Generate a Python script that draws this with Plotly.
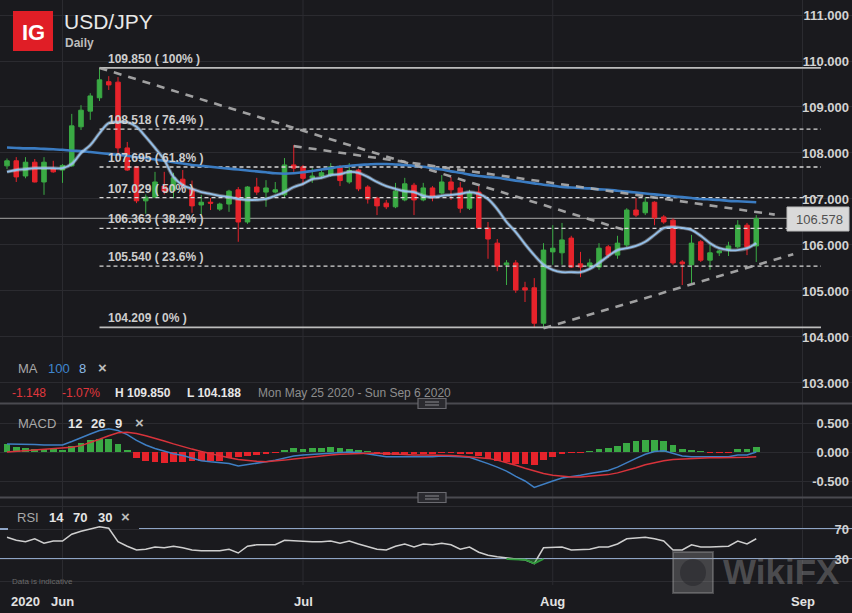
import pandas as pd
import plotly.graph_objects as go

# ---------------- data ----------------
# trading candles: Sunday..Friday (Saturdays absent), May 25 .. Aug 27 2020
DATES = [d.strftime("%Y-%m-%d") for d in pd.date_range("2020-05-25", "2020-08-27") if d.weekday() != 5]

OPEN = [107.72, 107.83, 107.50, 107.80, 107.37, 107.65, 107.63, 107.72, 108.57, 108.91,
        109.20, 109.55, 109.54, 108.11, 107.70, 106.96, 107.04, 107.28, 107.19, 107.43,
        107.22, 106.87, 106.93, 106.78, 106.89, 107.20, 106.50, 107.26, 107.15, 107.15,
        107.09, 107.74, 107.70, 107.46, 107.50, 107.52, 107.70, 107.37, 107.63, 107.26,
        107.02, 106.91, 106.83, 106.98, 107.30, 106.98, 107.24, 107.13, 107.37, 107.24,
        106.80, 107.15, 106.37, 106.04, 105.57, 105.61, 105.07, 105.07, 104.30, 105.85,
        105.83, 106.15, 105.59, 105.54, 105.52, 105.96, 105.78, 106.00, 106.76, 106.70,
        106.93, 106.61, 106.54, 105.63, 105.57, 106.07, 105.67, 105.83, 105.89, 105.96,
        106.43, 105.98]
HIGH = [107.88, 107.91, 107.91, 107.87, 107.91, 107.83, 107.76, 108.85, 109.04, 109.30,
        109.85, 109.67, 109.65, 108.24, 107.72, 107.10, 107.59, 107.59, 107.57, 107.63,
        107.40, 107.09, 107.02, 106.92, 107.20, 107.26, 107.28, 107.46, 107.41, 107.37,
        107.89, 108.17, 107.74, 107.67, 107.63, 107.78, 107.74, 107.78, 107.66, 107.30,
        107.05, 106.98, 107.35, 107.46, 107.35, 107.35, 107.28, 107.52, 107.48, 107.37,
        107.20, 107.28, 106.50, 106.13, 105.67, 105.67, 105.20, 105.28, 106.04, 106.43,
        106.48, 106.20, 105.85, 105.70, 106.04, 106.00, 106.20, 106.80, 107.02, 107.04,
        106.95, 106.65, 106.58, 105.67, 106.22, 106.11, 106.00, 105.89, 106.07, 106.54,
        106.48, 106.65]
LOW = [107.65, 107.37, 107.45, 107.36, 107.09, 107.57, 107.35, 107.70, 108.50, 108.72,
       109.13, 109.37, 107.93, 107.61, 106.91, 106.68, 107.02, 107.10, 107.02, 107.20,
       106.70, 106.65, 106.76, 106.74, 106.72, 106.07, 106.46, 107.09, 106.83, 107.12,
       107.04, 107.59, 107.30, 107.35, 107.45, 107.48, 107.28, 107.33, 107.17, 106.90,
       106.65, 106.78, 106.80, 106.95, 106.65, 106.95, 106.95, 107.10, 106.98, 106.70,
       106.76, 106.35, 105.70, 105.43, 105.13, 104.96, 104.76, 104.21, 104.188, 105.57,
       105.57, 105.50, 105.30, 105.50, 105.46, 105.72, 105.70, 105.96, 106.61, 106.65,
       106.43, 106.46, 105.57, 105.13, 105.17, 105.63, 105.46, 105.76, 105.76, 105.93,
       105.78, 105.63]
CLOSE = [107.83, 107.48, 107.80, 107.37, 107.80, 107.59, 107.73, 108.59, 108.93, 109.24,
         109.59, 109.48, 108.11, 107.63, 106.96, 107.04, 107.37, 107.17, 107.46, 107.28,
         106.85, 106.93, 106.91, 106.89, 107.17, 106.50, 107.26, 107.15, 107.24, 107.20,
         107.74, 107.67, 107.45, 107.50, 107.57, 107.70, 107.40, 107.62, 107.22, 107.00,
         106.85, 106.83, 107.17, 107.33, 106.98, 107.24, 107.04, 107.37, 107.20, 106.80,
         107.13, 106.37, 106.13, 105.54, 105.61, 105.02, 105.02, 104.30, 105.89, 105.93,
         106.11, 105.52, 105.52, 105.61, 105.93, 105.78, 106.04, 106.76, 106.65, 106.93,
         106.59, 106.50, 105.61, 105.59, 106.04, 105.67, 105.83, 105.87, 105.98, 106.43,
         105.96, 106.578]

MA100 = [108.12, 108.11, 108.10, 108.10, 108.09, 108.08, 108.07, 108.05, 108.04, 108.02,
         108.00, 107.98, 107.96, 107.94, 107.91, 107.89, 107.86, 107.83, 107.80, 107.77,
         107.74, 107.72, 107.70, 107.68, 107.66, 107.64, 107.62, 107.60, 107.58, 107.56,
         107.55, 107.56, 107.58, 107.61, 107.64, 107.67, 107.70, 107.72, 107.74, 107.75,
         107.76, 107.76, 107.75, 107.74, 107.72, 107.70, 107.67, 107.64, 107.60, 107.57,
         107.53, 107.50, 107.48, 107.46, 107.43, 107.40, 107.37, 107.34, 107.31, 107.29,
         107.26, 107.25, 107.24, 107.23, 107.21, 107.20, 107.18, 107.16, 107.14, 107.12,
         107.10, 107.08, 107.06, 107.04, 107.02, 107.00, 106.99, 106.98, 106.96, 106.95,
         106.94, 106.93]
MA8 = [107.59, 107.63, 107.65, 107.67, 107.67, 107.67, 107.67, 107.76, 108.00, 108.17,
       108.43, 108.65, 108.67, 108.67, 108.57, 108.35, 108.11, 107.85, 107.48, 107.30,
       107.22, 107.15, 107.11, 107.07, 107.04, 107.00, 106.98, 106.98, 107.00, 107.07,
       107.15, 107.26, 107.33, 107.43, 107.46, 107.52, 107.54, 107.59, 107.57, 107.48,
       107.37, 107.28, 107.22, 107.17, 107.15, 107.07, 107.04, 107.07, 107.09, 107.11,
       107.15, 107.11, 107.00, 106.78, 106.50, 106.28, 106.02, 105.78, 105.57, 105.46,
       105.41, 105.41, 105.41, 105.48, 105.61, 105.76, 105.89, 105.93, 105.98, 106.07,
       106.22, 106.37, 106.39, 106.37, 106.33, 106.20, 106.04, 105.93, 105.89, 105.89,
       105.93, 106.04]

MACD = [0.14, 0.14, 0.13, 0.13, 0.12, 0.12, 0.12, 0.18, 0.25, 0.31,
        0.37, 0.40, 0.37, 0.30, 0.20, 0.12, 0.06, 0.01, -0.03, -0.06,
        -0.11, -0.15, -0.17, -0.19, -0.20, -0.24, -0.22, -0.20, -0.17, -0.14,
        -0.10, -0.07, -0.05, -0.04, -0.02, -0.01, 0.00, 0.00, -0.01, -0.03,
        -0.06, -0.08, -0.08, -0.08, -0.09, -0.08, -0.08, -0.07, -0.07, -0.08,
        -0.09, -0.14, -0.20, -0.26, -0.33, -0.42, -0.50, -0.61, -0.55, -0.50,
        -0.45, -0.43, -0.40, -0.37, -0.35, -0.32, -0.26, -0.18, -0.11, -0.04,
        0.01, 0.02, -0.03, -0.07, -0.08, -0.08, -0.08, -0.08, -0.08, -0.05,
        -0.05, 0.00]
SIGNAL = [0.00, 0.01, 0.02, 0.03, 0.04, 0.05, 0.06, 0.08, 0.11, 0.16,
          0.22, 0.28, 0.33, 0.34, 0.32, 0.28, 0.24, 0.19, 0.14, 0.09,
          0.05, 0.01, -0.03, -0.07, -0.10, -0.13, -0.15, -0.16, -0.17, -0.16,
          -0.14, -0.12, -0.10, -0.08, -0.06, -0.05, -0.04, -0.03, -0.02, -0.02,
          -0.02, -0.03, -0.04, -0.04, -0.05, -0.05, -0.05, -0.06, -0.06, -0.07,
          -0.08, -0.09, -0.11, -0.14, -0.18, -0.23, -0.28, -0.33, -0.37, -0.40,
          -0.42, -0.43, -0.43, -0.42, -0.41, -0.39, -0.36, -0.32, -0.27, -0.22,
          -0.18, -0.15, -0.13, -0.12, -0.11, -0.10, -0.10, -0.10, -0.10, -0.10,
          -0.09, -0.08]
HIST = [0.13, 0.09, 0.07, 0.05, 0.05, 0.05, 0.04, 0.10, 0.16, 0.20,
        0.22, 0.22, 0.13, 0.02, -0.10, -0.16, -0.18, -0.19, -0.18, -0.17,
        -0.16, -0.16, -0.16, -0.15, -0.11, -0.09, -0.07, -0.05, -0.03, -0.01,
        0.04, 0.07, 0.06, 0.07, 0.07, 0.08, 0.07, 0.06, 0.03, 0.01,
        -0.035, -0.045, -0.045, -0.035, -0.03, -0.02, -0.02, -0.015, -0.01, -0.02,
        -0.03, -0.075, -0.115, -0.15, -0.17, -0.20, -0.20, -0.23, -0.14, -0.09,
        -0.02, -0.01, -0.005, 0.005, 0.055, 0.07, 0.10, 0.16, 0.19, 0.21,
        0.21, 0.19, 0.115, 0.05, 0.04, 0.01, -0.005, -0.005, -0.005, 0.055,
        0.045, 0.08]
RSI = [59, 55, 53, 57, 51, 54, 54, 63, 67, 70,
       73, 71, 53, 47, 42, 43, 46, 45, 47, 45,
       42, 41, 41, 41, 43, 38, 47, 49, 49, 49,
       55, 54, 53, 53, 53, 54, 51, 54, 50, 46,
       43, 42, 47, 50, 46, 50, 49, 51, 49, 43,
       46, 39, 35, 33, 31, 30, 29, 24, 45, 46,
       46, 42, 42, 43, 46, 46, 50, 57, 58, 59,
       57, 54, 42, 42, 49, 46, 46, 46, 47, 54,
       50, 57]

FIB_LEVELS = [109.850, 108.518, 107.695, 107.029, 106.363, 105.540, 104.209]
FIB_PCTS = ["100%", "76.4%", "61.8%", "50%", "38.2%", "23.6%", "0%"]
FIB_FROM, FIB_TO = "2020-06-05", "2020-09-03"
LAST_PRICE = 106.578
PRICE_TICKS = [103, 104, 105, 106, 107, 108, 109, 110, 111]
MACD_TICKS = [0.5, 0.0, -0.5]
RSI_LEVELS = [70, 30]
TREND_A = [("2020-06-05", 109.85), ("2020-08-11", 106.31)]
TREND_B = [("2020-06-30", 108.15), ("2020-08-29", 106.66)]
TREND_C = [("2020-07-31", 104.19), ("2020-08-31", 105.80)]
MONTH_LABELS = ["2020", "Jun", "Jul", "Aug", "Sep"]
MONTH_DATES = ["2020-05-27", "2020-06-01", "2020-07-01", "2020-08-02", "2020-09-01"]

# ---------------- helpers ----------------
W, H = 852, 613
PB = 585  # plot bottom in pixels
BG = "#1a1a1e"
GRID = "#2b2b30"
GREEN = "#3aaa44"
RED = "#e6232b"
FONT = "Liberation Sans, Arial, sans-serif"
LAST = pd.Timestamp(DATES[-1])


def pos(d):
    """candle slot of a date; future dates run on calendar days after the last candle"""
    if d in DATES:
        return DATES.index(d)
    return len(DATES) - 1 + (pd.Timestamp(d) - LAST).days


def px(x):
    return x / W


def py(y):
    return (PB - y) / PB


IDX = list(range(len(DATES)))

fig = go.Figure()

# fib retracement lines
for lv in FIB_LEVELS:
    solid = lv in (FIB_LEVELS[0], FIB_LEVELS[-1])
    fig.add_trace(go.Scatter(
        x=[pos(FIB_FROM), pos(FIB_TO)], y=[lv, lv], mode="lines",
        line=dict(color="#bdbdbd" if solid else "#d6d6d6", width=1.6 if solid else 1.3,
                  dash="solid" if solid else "4px,3px"),
        xaxis="x", yaxis="y", hoverinfo="skip", showlegend=False))

# candles
fig.add_trace(go.Candlestick(
    x=IDX, open=OPEN, high=HIGH, low=LOW, close=CLOSE,
    increasing=dict(line=dict(color=GREEN, width=1), fillcolor=GREEN),
    decreasing=dict(line=dict(color=RED, width=1), fillcolor=RED),
    whiskerwidth=0, xaxis="x", yaxis="y", showlegend=False, hoverinfo="skip"))

# moving averages
fig.add_trace(go.Scatter(x=IDX, y=MA100, mode="lines", line=dict(color="#3b7cc2", width=2.6, shape="spline"),
                         xaxis="x", yaxis="y", hoverinfo="skip", showlegend=False))
fig.add_trace(go.Scatter(x=IDX, y=MA8, mode="lines", line=dict(color="rgba(230,238,250,0.35)", width=3.6, shape="spline"),
                         xaxis="x", yaxis="y", hoverinfo="skip", showlegend=False))
fig.add_trace(go.Scatter(x=IDX, y=MA8, mode="lines", line=dict(color="#94c0ea", width=1.8, shape="spline"),
                         xaxis="x", yaxis="y", hoverinfo="skip", showlegend=False))

# trend lines
for tl in (TREND_A, TREND_B, TREND_C):
    fig.add_trace(go.Scatter(
        x=[pos(tl[0][0]), pos(tl[1][0])], y=[tl[0][1], tl[1][1]], mode="lines",
        line=dict(color="rgba(175,175,175,0.9)", width=2.6, dash="8px,7px"),
        xaxis="x", yaxis="y", hoverinfo="skip", showlegend=False))

# MACD panel
fig.add_trace(go.Bar(x=IDX, y=HIST, marker=dict(color=[GREEN if v >= 0 else RED for v in HIST], line=dict(width=0)),
                     width=0.72, xaxis="x", yaxis="y2", hoverinfo="skip", showlegend=False))
fig.add_trace(go.Scatter(x=IDX, y=MACD, mode="lines", line=dict(color="#3f7fc4", width=1.5),
                         xaxis="x", yaxis="y2", hoverinfo="skip", showlegend=False))
fig.add_trace(go.Scatter(x=IDX, y=SIGNAL, mode="lines", line=dict(color="#d8333b", width=1.5),
                         xaxis="x", yaxis="y2", hoverinfo="skip", showlegend=False))

# RSI panel
fig.add_trace(go.Scatter(x=IDX, y=RSI, mode="lines", line=dict(color="#cfcfcf", width=1.5),
                         xaxis="x", yaxis="y3", hoverinfo="skip", showlegend=False))
os_idx = [i for i, v in enumerate(RSI) if v <= RSI_LEVELS[1]]
os_x = [os_idx[0] - 1] + os_idx + [os_idx[-1] + 1]
fig.add_trace(go.Scatter(x=os_x, y=[RSI_LEVELS[1]] * len(os_x), mode="lines", line=dict(width=0),
                         xaxis="x", yaxis="y3", hoverinfo="skip", showlegend=False))
fig.add_trace(go.Scatter(x=os_x, y=[min(RSI[i], RSI_LEVELS[1]) for i in os_x], mode="lines",
                         line=dict(color="#2e9a3a", width=1.8), fill="tonexty", fillcolor="rgba(46,154,58,0.45)",
                         xaxis="x", yaxis="y3", hoverinfo="skip", showlegend=False))

# ---------------- shapes ----------------
shapes = []
for d in MONTH_DATES[1:]:
    p = pos(d)
    shapes.append(dict(type="line", xref="x", yref="paper", x0=p, x1=p, y0=0, y1=1,
                       line=dict(color=GRID, width=1), layer="below"))
# last price line
shapes.append(dict(type="line", xref="paper", yref="y", x0=0, x1=px(787), y0=LAST_PRICE, y1=LAST_PRICE,
                   line=dict(color="#8a8a8a", width=1.2), layer="below"))
# RSI 70 / 30 lines (70 is interrupted by the legend box)
shapes.append(dict(type="line", xref="paper", yref="y3", x0=0, x1=px(8), y0=RSI_LEVELS[0], y1=RSI_LEVELS[0],
                   line=dict(color="#8fa5c6", width=2)))
shapes.append(dict(type="line", xref="paper", yref="y3", x0=px(139), x1=1, y0=RSI_LEVELS[0], y1=RSI_LEVELS[0],
                   line=dict(color="#8fa5c6", width=2), layer="below"))
shapes.append(dict(type="line", xref="paper", yref="y3", x0=0, x1=1, y0=RSI_LEVELS[1], y1=RSI_LEVELS[1],
                   line=dict(color="#8fa5c6", width=2), layer="below"))
# panel separators
for ysep in (403.5, 497.5):
    shapes.append(dict(type="line", xref="paper", yref="paper", x0=0, x1=1, y0=py(ysep), y1=py(ysep),
                       line=dict(color="#4a4a50", width=2)))
    shapes.append(dict(type="rect", xref="paper", yref="paper", x0=px(418), x1=px(446),
                       y0=py(ysep + 5), y1=py(ysep - 5), fillcolor="#2a2a2f", line=dict(color="#6a6a70", width=1.2)))
    for dy in (-1.5, 1.5):
        shapes.append(dict(type="line", xref="paper", yref="paper", x0=px(425), x1=px(439),
                           y0=py(ysep + dy), y1=py(ysep + dy), line=dict(color="#8a8a90", width=1)))
# IG logo
shapes.append(dict(type="rect", xref="paper", yref="paper", x0=px(13), x1=px(53), y0=py(51), y1=py(11),
                   fillcolor="#e01e26", line=dict(width=0)))
# last price box
shapes.append(dict(type="rect", xref="paper", yref="paper", x0=px(787), x1=px(849), y0=py(231), y1=py(207),
                   fillcolor="#d9d9d9", line=dict(color="#bcbcbc", width=1)))
# watermark
shapes.append(dict(type="rect", xref="paper", yref="paper", x0=px(673), x1=px(713), y0=py(593), y1=py(552),
                   fillcolor="rgba(150,150,150,0.35)", line=dict(color="rgba(170,170,170,0.35)", width=2)))
shapes.append(dict(type="circle", xref="paper", yref="paper", x0=px(680), x1=px(706), y0=py(586), y1=py(559),
                   fillcolor="rgba(30,30,35,0.45)", line=dict(width=0)))

# ---------------- annotations ----------------
ann = []


def text(t, x, y, size=12, color="#cfcfcf", xanchor="left", bold=False, **kw):
    ann.append(dict(text=(f"<b>{t}</b>" if bold else t), x=px(x), y=py(y), xref="paper", yref="paper",
                    xanchor=xanchor, yanchor="middle", showarrow=False,
                    font=dict(family=FONT, size=size, color=color), **kw))


text("IG", 33, 32, size=22, color="white", xanchor="center", bold=True)
text("USD/JPY", 62, 22, size=21, color="#e8e8e8")
text("Daily", 63, 43, size=12, color="#bdbdbd", bold=True)

for lv, pct in zip(FIB_LEVELS, FIB_PCTS):
    ann.append(dict(text=f"<b>{lv:.3f} ( {pct} )</b>", x=px(106), y=lv, xref="paper", yref="y",
                    xanchor="left", yanchor="middle", yshift=9, showarrow=False,
                    font=dict(family=FONT, size=12, color="#cdcdcd")))

text("MA", 16, 368, size=13, color="#a8a8a8")
text("100", 46, 368, size=13, color="#3f86cf")
text("8", 77, 368, size=13, color="#8cbbe6")
text("×", 96, 367, size=15, color="#bdbdbd", bold=True)
text("-1.148", 10, 393, size=12, color="#e0373d")
text("-1.07%", 60, 393, size=12, color="#e0373d")
text("H 109.850", 113, 393, size=12, color="#e6e6e6", bold=True)
text("L 104.188", 185, 393, size=12, color="#e6e6e6", bold=True)
text("Mon May 25 2020 - Sun Sep 6 2020", 256, 393, size=12, color="#8e8e8e")

text("MACD", 16, 423, size=13, color="#a8a8a8")
text("12", 66, 423, size=13, color="#e6e6e6", bold=True)
text("26", 89, 423, size=13, color="#e6e6e6", bold=True)
text("9", 113, 423, size=13, color="#e6e6e6", bold=True)
text("×", 133, 422, size=15, color="#bdbdbd", bold=True)

text("RSI", 15, 517, size=13, color="#a8a8a8")
text("14", 47, 517, size=13, color="#e6e6e6", bold=True)
text("70", 71, 517, size=13, color="#e6e6e6", bold=True)
text("30", 96, 517, size=13, color="#e6e6e6", bold=True)
text("×", 119, 516, size=15, color="#bdbdbd", bold=True)
text("Data is indicative", 10, 581, size=8, color="#6a6a6a")

text(f"{LAST_PRICE:.3f}", 845, 219, size=13, color="#505050", xanchor="right")
text("WikiFX", 721, 571, size=35, color="rgba(170,170,170,0.35)", bold=True)

# month labels along the time axis
for lab, d in zip(MONTH_LABELS, MONTH_DATES):
    ann.append(dict(text=f"<b>{lab}</b>", x=pos(d), y=py(602), xref="x", yref="paper",
                    xanchor="center", yanchor="middle", showarrow=False,
                    font=dict(family=FONT, size=13, color="#e2e2e2")))

tick_font = dict(family=FONT, size=13, color="#d2d2d2", weight="bold")

fig.update_layout(
    width=W, height=H, paper_bgcolor=BG, plot_bgcolor=BG,
    margin=dict(l=0, r=0, t=0, b=H - PB),
    showlegend=False, hovermode=False, bargap=0,
    xaxis=dict(domain=[0, 1], anchor="y3", range=[-0.757, 91.35], showgrid=False, zeroline=False,
               rangeslider=dict(visible=False), showticklabels=False, ticks="",
               showline=False, fixedrange=True),
    yaxis=dict(domain=[py(403), 1], anchor="x", range=[102.565, 111.326], side="right",
               tickmode="array", tickvals=PRICE_TICKS, ticktext=[f"{v:.3f}" for v in PRICE_TICKS],
               ticklabelposition="inside", tickfont=tick_font, showgrid=True, gridcolor=GRID,
               zeroline=False, fixedrange=True),
    yaxis2=dict(domain=[py(497), py(403)], anchor="x", range=[-0.776, 0.845], side="right",
                tickmode="array", tickvals=MACD_TICKS, ticktext=[f"{v:.3f}" for v in MACD_TICKS],
                ticklabelposition="inside", tickfont=tick_font, showgrid=True, gridcolor=GRID,
                zeroline=False, fixedrange=True),
    yaxis3=dict(domain=[0, py(497)], anchor="x", range=[-4.67, 112.7], side="right",
                tickmode="array", tickvals=[0] + RSI_LEVELS[::-1] + [100], ticktext=["", "30", "70", ""],
                ticklabelposition="inside", tickfont=tick_font, showgrid=True, gridcolor=GRID,
                zeroline=False, fixedrange=True),
    shapes=shapes, annotations=ann,
)

fig.write_html("out.html", config={"displayModeBar": False},
               post_script="document.body.style.margin='0';document.body.style.padding='0';"
                           "document.body.style.background='" + BG + "';")
